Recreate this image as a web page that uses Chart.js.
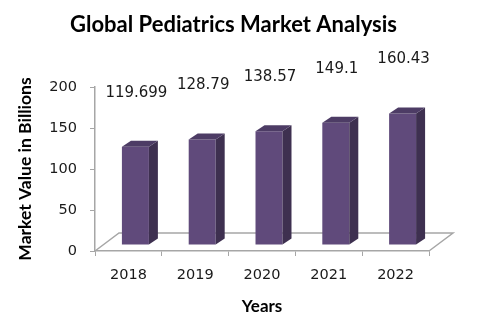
<!DOCTYPE html>
<html>
<head>
<meta charset="utf-8">
<script src="https://cdn.jsdelivr.net/npm/chart.js@4"></script>
<style>
  html, body { margin: 0; padding: 0; background: #fff; }
  canvas { display: block; }
</style>
</head>
<body>
<canvas id="chart" width="483" height="329"></canvas>
<script>
const years = ['2018', '2019', '2020', '2021', '2022'];
const marketValues = [119.699, 128.79, 138.57, 149.1, 160.43];
const valueLabels = ['119.699', '128.79', '138.57', '149.1', '160.43'];
const yTicks = [0, 50, 100, 150, 200];

const frontColor = '#604a7b';
const sideColor = '#3e3050';
const topColor = '#4d3c65';
const floorColor = '#a6a6a6';

// fake 3d look like the excel chart: shift the front faces, add side + top faces
const depthX = 9, depthY = 6;
const shiftX = 7, shiftY = -6;

const bars3d = {
  id: 'bars3d',
  beforeDatasetsDraw(chart) {
    const ctx = chart.ctx;
    const x = chart.scales.x, y = chart.scales.y;
    const left = x.left, right = x.right, bottom = y.bottom;
    // floor
    ctx.save();
    ctx.strokeStyle = floorColor;
    ctx.lineWidth = 1.5;
    ctx.beginPath();
    ctx.moveTo(left, bottom);
    ctx.lineTo(left + 24, bottom - 18);
    ctx.lineTo(right + 24, bottom - 18);
    ctx.lineTo(right, bottom);
    ctx.stroke();
    ctx.restore();

    ctx.save();
    ctx.translate(shiftX, shiftY);
  },
  afterDatasetsDraw(chart) {
    const ctx = chart.ctx;
    const meta = chart.getDatasetMeta(0);
    meta.data.forEach((bar, i) => {
      const half = bar.width / 2;
      const l = bar.x - half, r = bar.x + half;
      const t = bar.y, b = bar.base;
      // side
      ctx.fillStyle = sideColor;
      ctx.beginPath();
      ctx.moveTo(r, t);
      ctx.lineTo(r + depthX, t - depthY);
      ctx.lineTo(r + depthX, b - depthY);
      ctx.lineTo(r, b);
      ctx.closePath();
      ctx.fill();
      // top
      ctx.fillStyle = topColor;
      ctx.beginPath();
      ctx.moveTo(l, t);
      ctx.lineTo(l + depthX, t - depthY);
      ctx.lineTo(r + depthX, t - depthY);
      ctx.lineTo(r, t);
      ctx.closePath();
      ctx.fill();
      // value label
      ctx.fillStyle = '#1a1a1a';
      ctx.font = '15px "DejaVu Sans"';
      ctx.textAlign = 'center';
      ctx.textBaseline = 'middle';
      ctx.fillText(valueLabels[i], bar.x + 1, t - 54);
    });
    ctx.restore();
  }
};

new Chart(document.getElementById('chart'), {
  type: 'bar',
  data: {
    labels: years,
    datasets: [{
      data: marketValues,
      backgroundColor: frontColor,
      borderWidth: 0,
      categoryPercentage: 0.8,
      barPercentage: 0.505,
      clip: false
    }]
  },
  options: {
    responsive: false,
    animation: false,
    layout: { padding: { left: 0, right: 16, top: 0, bottom: 0 } },
    plugins: {
      legend: { display: false },
      tooltip: { enabled: false },
      title: {
        display: true,
        text: 'Global Pediatrics Market Analysis',
        color: '#000',
        font: { family: 'Lato', size: 22, weight: 'bold', lineHeight: 1.2 },
        padding: { top: 12, bottom: 48.6 }
      }
    },
    scales: {
      x: {
        grid: { display: true, drawOnChartArea: false, drawTicks: true, tickLength: 5, color: floorColor, offset: true },
        border: { display: true, color: floorColor, width: 1.5 },
        ticks: { color: '#1a1a1a', font: { family: 'DejaVu Sans', size: 14.5 }, padding: 11 },
        title: {
          display: true,
          text: 'Years',
          color: '#000',
          font: { family: 'Lato', size: 17, weight: 'bold', lineHeight: 1.2 },
          padding: { top: 0, bottom: 12 }
        },
        afterFit(scale) { scale.height = 78; }
      },
      y: {
        min: 0,
        max: 200,
        afterBuildTicks(scale) { scale.ticks = yTicks.map(v => ({ value: v })); },
        grid: { display: true, drawOnChartArea: false, drawTicks: true, tickLength: 5, color: floorColor },
        border: { display: true, color: floorColor, width: 1.5 },
        ticks: { color: '#1a1a1a', font: { family: 'DejaVu Sans', size: 14.5 }, padding: 13 },
        title: {
          display: true,
          text: 'Market Value in Billions',
          color: '#000',
          font: { family: 'Lato', size: 17.5, weight: 'bold', lineHeight: 1.2 },
          padding: { top: 15, bottom: 0 }
        },
        afterFit(scale) { scale.width = 95; }
      },
      // empty right axis only to keep room for the floor edge and keep the title centred like the original
      yRight: {
        position: 'right',
        display: true,
        grid: { display: false },
        border: { display: false },
        ticks: { display: false },
        afterFit(scale) { scale.width = 38; }
      }
    }
  },
  plugins: [bars3d]
});
</script>
</body>
</html>
